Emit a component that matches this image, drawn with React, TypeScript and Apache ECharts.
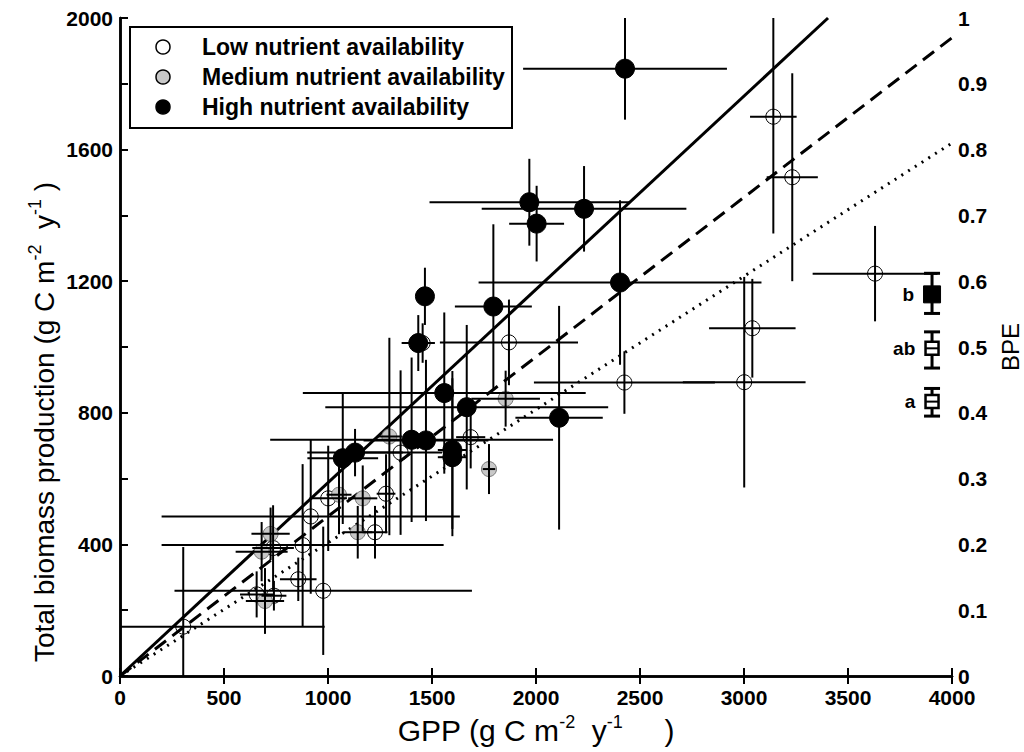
import React, { useEffect, useRef } from "react";
import * as echarts from "echarts";

// ---- data ----
// Low nutrient availability: [GPP, TBP, GPP error, TBP error]
const lowGPP = [304, 657, 740, 736, 878, 917, 857, 977, 1001, 1279, 1349, 1226, 1686, 1870, 1455, 2425, 3001, 3040, 3141, 3232, 3630];
const lowTBP = [150, 248, 244, 389, 398, 485, 294, 259, 540, 554, 679, 437, 726, 1014, 1012, 892, 893, 1057, 1700, 1516, 1223];
const lowGPPErr = [680, 80, 60, 100, 678, 717, 88, 715, 90, 45, 200, 60, 70, 332, 30, 435, 295, 208, 112, 123, 300];
const lowTBPErr = [242, 70, 45, 130, 246, 235, 66, 195, 160, 120, 250, 80, 95, 130, 60, 95, 320, 150, 355, 316, 145];

const medGPP = [697, 724, 681, 1053, 1167, 1143, 1295, 1854, 1774];
const medTBP = [228, 432, 378, 551, 540, 437, 728, 843, 629];
const medGPPErr = [92, 92, 125, 60, 70, 70, 60, 165, 30];
const medTBPErr = [100, 80, 90, 120, 100, 80, 300, 85, 76];

const highGPP = [2428, 1968, 2231, 2003, 2404, 1466, 1795, 1434, 1559, 1667, 2111, 1402, 1471, 1598, 1598, 1071, 1130];
const highTBP = [1846, 1440, 1420, 1375, 1196, 1154, 1123, 1012, 860, 817, 785, 718, 716, 687, 665, 662, 679];
const highGPPErr = [490, 480, 492, 132, 680, 20, 185, 80, 680, 680, 210, 680, 300, 70, 70, 170, 230];
const highTBPErr = [155, 132, 130, 115, 250, 87, 250, 85, 245, 250, 340, 250, 245, 240, 240, 200, 72];

// fitted lines (end points)
const solidLine = [[0, 0], [3404, 2000]];
const dashedLine = [[0, 0], [4000, 1940]];
const dottedLine = [[0, 0], [4000, 1620]];

// BPE group means (right axis)
const bpeLabels = ["b", "ab", "a"];
const bpeX = [3904, 3904, 3904];
const bpeMean = [0.58, 0.498, 0.417];
const bpeLow = [0.551, 0.468, 0.395];
const bpeHigh = [0.612, 0.523, 0.437];

const legendNames = ["Low nutrient availability", "Medium nutrient availability", "High nutrient availability"];

const FONT = "'Liberation Sans', Arial, sans-serif";

function pts(xs: number[], ys: number[]) {
  return xs.map((x, i) => [x, ys[i]]);
}
function errs(xs: number[], ys: number[], xe: number[], ye: number[]) {
  return xs.map((x, i) => [x, ys[i], xe[i], ye[i]]);
}

export default function App() {
  const ref = useRef<HTMLDivElement>(null);
  useEffect(() => {
    if (!ref.current) return;
    const chart = echarts.init(ref.current, undefined, { renderer: "svg" });
    const errData = [
      ...errs(lowGPP, lowTBP, lowGPPErr, lowTBPErr),
      ...errs(medGPP, medTBP, medGPPErr, medTBPErr),
      ...errs(highGPP, highTBP, highGPPErr, highTBPErr),
    ];
    const axisLine = { show: true, lineStyle: { color: "#000", width: 2.5 } };
    const tickLabel = { color: "#000", fontFamily: FONT, fontWeight: "bold" as const, fontSize: 21 };
    const xRich = {
      a: { fontFamily: FONT, fontSize: 30, lineHeight: 36, color: "#000" },
      s: { fontFamily: FONT, fontSize: 18, lineHeight: 18, verticalAlign: "top" as const, color: "#000" },
    };
    const yRich = {
      a: { fontFamily: FONT, fontSize: 28, lineHeight: 36, color: "#000" },
      s: { fontFamily: FONT, fontSize: 18, lineHeight: 18, verticalAlign: "top" as const, color: "#000" },
    };
    const option: any = {
      animation: false,
      grid: { left: 120, right: 72, top: 18, bottom: 76, outerBoundsMode: "none", containLabel: false },
      xAxis: [
        {
          type: "value", min: 0, max: 4000, interval: 500, position: "bottom",
          axisLine, splitLine: { show: false },
          axisTick: { show: true, inside: true, length: 8, lineStyle: { color: "#000", width: 2 } },
          axisLabel: { ...tickLabel, margin: 11, formatter: (v: number) => String(v) },
          name: "{a|GPP (g C m}{s|-2}{a|  y}{s|-1}{a|     )}",
          nameLocation: "middle", nameGap: 36,
          nameTextStyle: { rich: xRich },
        },
        {
          type: "value", min: 0, max: 4000, interval: 500, position: "top",
          axisLine, splitLine: { show: false },
          axisTick: { show: true, inside: true, length: 8, lineStyle: { color: "#000", width: 2 } },
          axisLabel: { show: false },
        },
      ],
      yAxis: [
        {
          type: "value", min: 0, max: 2000, interval: 400, position: "left",
          axisLine, splitLine: { show: false },
          axisTick: { show: true, inside: true, length: 8, lineStyle: { color: "#000", width: 2 } },
          axisLabel: { ...tickLabel, margin: 7, formatter: (v: number) => String(v) },
        },
        {
          type: "value", min: 0, max: 1, interval: 0.1, position: "right",
          axisLine, splitLine: { show: false },
          axisTick: { show: true, inside: false, length: 8, lineStyle: { color: "#000", width: 2 } },
          axisLabel: { ...tickLabel, margin: 6, formatter: (v: number) => String(Math.round(v * 10) / 10) },
          name: "BPE", nameLocation: "middle", nameRotate: 90, nameGap: 34,
          nameTextStyle: { fontFamily: FONT, fontSize: 24, lineHeight: 24, color: "#000" },
        },
      ],
      series: [
        {
          type: "line", data: solidLine, symbol: "none", z: 3,
          lineStyle: { color: "#000", width: 3, type: "solid" },
        },
        {
          type: "line", data: dashedLine, symbol: "none", z: 3,
          lineStyle: { color: "#000", width: 3, type: [14, 8] },
        },
        {
          type: "line", data: dottedLine, symbol: "none", z: 3,
          lineStyle: { color: "#000", width: 3, type: [2, 6] },
        },
        {
          name: legendNames[0], type: "scatter", data: pts(lowGPP, lowTBP), symbol: "circle", symbolSize: 15, z: 4,
          itemStyle: { color: "rgba(255,255,255,0)", borderColor: "#000", borderWidth: 1, opacity: 1 },
        },
        {
          name: legendNames[1], type: "scatter", data: pts(medGPP, medTBP), symbol: "circle", symbolSize: 15, z: 4,
          itemStyle: { color: "#c8c8c8", borderColor: "#777", borderWidth: 1, opacity: 1 },
        },
        {
          name: legendNames[2], type: "scatter", data: pts(highGPP, highTBP), symbol: "circle", symbolSize: 19, z: 4,
          itemStyle: { color: "#000", borderColor: "#000", borderWidth: 1, opacity: 1 },
        },
        {
          type: "custom", data: errData, z: 5, clip: true,
          renderItem: (params: any, api: any) => {
            const x = api.value(0), y = api.value(1), xe = api.value(2), ye = api.value(3);
            const l = api.coord([x - xe, y]);
            const r = api.coord([x + xe, y]);
            const t = api.coord([x, y + ye]);
            const b = api.coord([x, y - ye]);
            const st = { stroke: "#000", lineWidth: 2 };
            return {
              type: "group",
              children: [
                { type: "line", shape: { x1: l[0], y1: l[1], x2: r[0], y2: r[1] }, style: st },
                { type: "line", shape: { x1: t[0], y1: t[1], x2: b[0], y2: b[1] }, style: st },
              ],
            };
          },
        },
        {
          type: "custom", yAxisIndex: 1, z: 5,
          data: bpeX.map((x, i) => [x, bpeMean[i], bpeLow[i], bpeHigh[i]]),
          renderItem: (params: any, api: any) => {
            const x = api.value(0);
            const top = api.coord([x, api.value(3)]);
            const bot = api.coord([x, api.value(2)]);
            const st = { stroke: "#000", lineWidth: 3 };
            const w = 8;
            return {
              type: "group",
              children: [
                { type: "line", shape: { x1: top[0], y1: top[1], x2: bot[0], y2: bot[1] }, style: st },
                { type: "line", shape: { x1: top[0] - w, y1: top[1], x2: top[0] + w, y2: top[1] }, style: st },
                { type: "line", shape: { x1: bot[0] - w, y1: bot[1], x2: bot[0] + w, y2: bot[1] }, style: st },
              ],
            };
          },
        },
        {
          type: "scatter", yAxisIndex: 1, z: 6, symbol: "rect",
          data: bpeX.map((x, i) => ({
            value: [x, bpeMean[i]],
            symbolSize: i === 0 ? 17 : 13,
            itemStyle: i === 0
              ? { color: "#000", borderColor: "#000", borderWidth: 1, opacity: 1 }
              : { color: "#fff", borderColor: "#000", borderWidth: 2.5, opacity: 1 },
          })),
          label: {
            show: true, position: "left", distance: 9,
            formatter: (p: any) => bpeLabels[p.dataIndex],
            fontFamily: FONT, fontWeight: "bold", fontSize: 19, color: "#000",
          },
        },
        {
          type: "custom", yAxisIndex: 1, z: 7,
          data: bpeX.map((x, i) => [x, bpeMean[i]]).slice(1),
          renderItem: (params: any, api: any) => {
            const c = api.coord([api.value(0), api.value(1)]);
            return {
              type: "line",
              shape: { x1: c[0] - 6, y1: c[1], x2: c[0] + 6, y2: c[1] },
              style: { stroke: "#000", lineWidth: 2 },
            };
          },
        },
      ],
      graphic: [
        {
          type: "text", x: 44, y: 422, rotation: Math.PI / 2, z: 10,
          style: {
            text: "{a|Total biomass production (g C m}{s|-2}{a|  y}{s|-1}{a| )}",
            rich: yRich, align: "center", verticalAlign: "middle",
          },
        },
        {
          type: "group", z: 100,
          children: [
            { type: "rect", shape: { x: 130, y: 27, width: 382, height: 101 }, style: { fill: "#fff", stroke: "#000", lineWidth: 2 } },
            { type: "circle", shape: { cx: 163, cy: 47, r: 7 }, style: { fill: "#fff", stroke: "#000", lineWidth: 1.5 } },
            { type: "circle", shape: { cx: 163, cy: 77, r: 7 }, style: { fill: "#c8c8c8", stroke: "#000", lineWidth: 1.5 } },
            { type: "circle", shape: { cx: 163, cy: 107, r: 7 }, style: { fill: "#000", stroke: "#000", lineWidth: 1.5 } },
            ...legendNames.map((n, i) => ({
              type: "text", x: 202, y: 47 + i * 30,
              style: { text: n, fontFamily: FONT, fontWeight: "bold", fontSize: 23, fill: "#000", verticalAlign: "middle" },
            })),
          ],
        },
      ],
    };
    chart.setOption(option);
    return () => chart.dispose();
  }, []);
  return <div ref={ref} style={{ position: "fixed", left: 0, top: 0, width: 1024, height: 752, background: "#fff" }} />;
}
